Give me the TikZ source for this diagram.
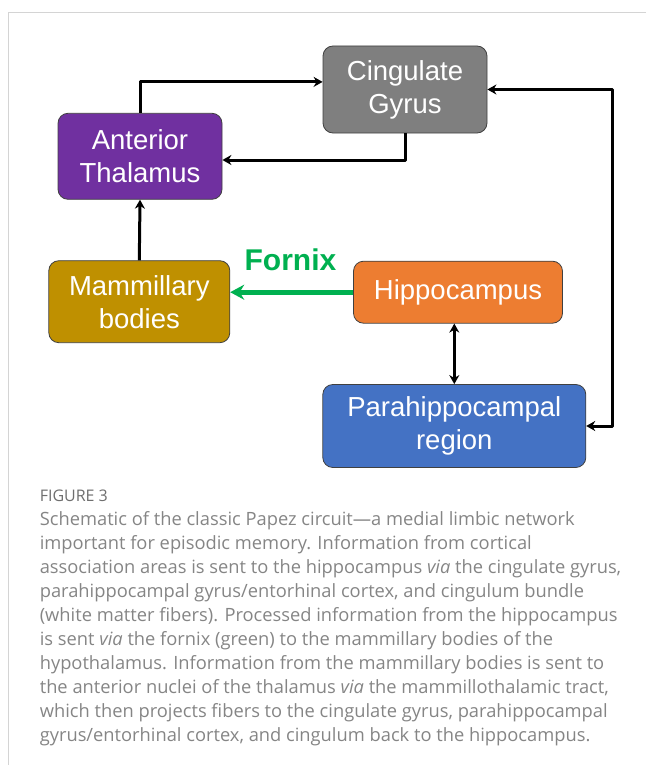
\documentclass[tikz,border=0pt]{standalone}
\usepackage{fontspec}
\setmainfont{Liberation Sans}
\newfontfamily\capfont{Open Sans}
\usetikzlibrary{arrows.meta}
\definecolor{cgray}{HTML}{7F7F7F}
\definecolor{tpurple}{HTML}{7030A0}
\definecolor{mgold}{HTML}{BF9000}
\definecolor{horange}{HTML}{ED7D31}
\definecolor{pblue}{HTML}{4472C4}
\definecolor{fgreen}{HTML}{00B050}
\definecolor{capgray}{HTML}{858585}
\definecolor{figgray}{HTML}{6E6E6E}
\definecolor{framegray}{HTML}{D4D4D4}
\begin{document}
\begin{tikzpicture}[x=1pt, y=-1pt, line join=round, >={Stealth[length=9pt,width=10pt]},
	box/.style={draw=black!75, line width=0.8pt, rounded corners=10pt, text=white, align=center, inner sep=0pt, font=\fontsize{27.5}{33}\selectfont},
	link/.style={line width=3pt, ->},
	capline/.style={anchor=base west, inner sep=0pt, text=capgray, font=\capfont\fontsize{18.3}{24}\selectfont}]
	\def\capx{39.6}\def\capy{525.5}\def\capskip{24}
	\useasboundingbox (0,0) rectangle (646,765);
	\draw[framegray, line width=1pt] (646,12.5) -- (8,12.5) -- (8,765);
	\node[box, fill=cgray, minimum width=164pt, minimum height=87pt] (cg) at (405,89.5) {Cingulate\\Gyrus};
	\node[box, fill=tpurple, minimum width=164pt, minimum height=86pt] (at) at (140,156.3) {Anterior\\Thalamus};
	\node[box, fill=mgold, minimum width=181pt, minimum height=82pt] (mb) at (139.3,301.7) {Mammillary\\bodies};
	\node[box, fill=horange, minimum width=209pt, minimum height=62pt] (hc) at (458,292.2) {Hippocampus};
	\node[box, fill=pblue, minimum width=263pt, minimum height=83pt] (ph) at (454.3,426) {Parahippocampal\\region};
	\node[inner sep=0pt, text=fgreen, font=\bfseries\fontsize{30}{36}\selectfont] (fx) at (290.5,259.3) {Fornix};
	\coordinate (loop) at (612,250);
	\draw[link] (at.north) |- ([yshift=7.6pt]cg.west);
	\draw[link] (cg.south) |- ([yshift=-3.7pt]at.east);
	\draw[link] (mb.north) -- (at.south);
	\draw[link, <->] (cg.east) -- (cg.east -| loop) -- (ph.east -| loop) -- (ph.east);
	\draw[link, <->] (ph.north |- hc.south) -- (ph.north);
	\draw[fgreen, line width=5pt, -{Stealth[length=14pt,width=15pt]}] (hc.west) -- (hc.west -| mb.east);
	\node[capline, text=figgray, font=\capfont\fontsize{16}{18}\selectfont] (fig) at (\capx,501.7) {FIGURE 3};
	\foreach \ln [count=\i] in {
		{Schematic of the classic Papez circuit—a medial limbic network},
		{important for episodic memory. Information from cortical},
		{association areas is sent to the hippocampus \emph{via} the cingulate gyrus,},
		{parahippocampal gyrus/entorhinal cortex, and cingulum bundle},
		{(white matter fibers). Processed information from the hippocampus},
		{is sent \emph{via} the fornix (green) to the mammillary bodies of the},
		{hypothalamus. Information from the mammillary bodies is sent to},
		{the anterior nuclei of the thalamus \emph{via} the mammillothalamic tract,},
		{which then projects fibers to the cingulate gyrus, parahippocampal},
		{gyrus/entorhinal cortex, and cingulum back to the hippocampus.}}{
		\node[capline] (cap\i) at (\capx,{\capy+\capskip*(\i-1)}) {\ln};
	}
\end{tikzpicture}
\end{document}
